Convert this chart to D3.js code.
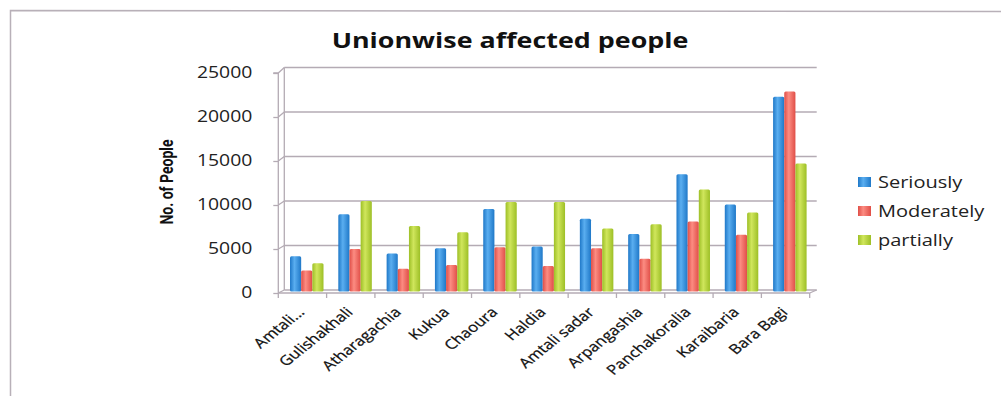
<!DOCTYPE html>
<html>
<head>
<meta charset="utf-8">
<script src="https://cdn.jsdelivr.net/npm/d3@7"></script>
<style>
  html, body { margin: 0; padding: 0; background: #fff; }
  svg { display: block; }
</style>
</head>
<body>
<svg id="chart" width="1001" height="396"></svg>
<script>
// Unions along the x axis
const categories = ["Amtali...", "Gulishakhali", "Atharagachia", "Kukua", "Chaoura", "Haldia",
  "Amtali sadar", "Arpangashia", "Panchakoralia", "Karaibaria", "Bara Bagi"];

// Affected people per union, by severity
const seriously  = [3800, 8500, 4100, 4700, 9100, 4900, 8000, 6300, 13000, 9600, 21700];
const moderately = [2200, 4600, 2400, 2800, 4800, 2700, 4700, 3500, 7700, 6200, 22300];
const partially  = [3000, 10000, 7200, 6500, 9900, 9900, 6900, 7400, 11300, 8700, 14200];

const seriesNames = ["Seriously", "Moderately", "partially"];
const yTicks = [0, 5000, 10000, 15000, 20000, 25000];

const series = [
  { name: seriesNames[0], values: seriously,  edge: "#1f78c8", mid: "#5aaef0" },
  { name: seriesNames[1], values: moderately, edge: "#e04e47", mid: "#fc8c82" },
  { name: seriesNames[2], values: partially,  edge: "#9dbf26", mid: "#d0e65c" }
];

const svg = d3.select("#chart");
const gridColor = "#b4abb4";
const stretch = 1.25;   // the chart's text is set wide

// outer frame
svg.append("path")
  .attr("d", "M10.5,396 L10.5,10.5 L1001,11.5")
  .attr("fill", "none").attr("stroke", "#b8b0b8").attr("stroke-width", 1.5);

// gradients giving the columns a rounded look
const defs = svg.append("defs");
series.forEach((s, i) => {
  const g = defs.append("linearGradient").attr("id", "grad" + i)
    .attr("x1", "0").attr("x2", "1").attr("y1", "0").attr("y2", "0");
  g.append("stop").attr("offset", "0%").attr("stop-color", s.edge);
  g.append("stop").attr("offset", "40%").attr("stop-color", s.mid);
  g.append("stop").attr("offset", "100%").attr("stop-color", s.edge);
});

// geometry of the pseudo-3D plot box
const x0 = 278.3, x1 = 809.7;       // front axis extent
const depthX = 6;                   // horizontal offset of the back wall
const yFront = d3.scaleLinear().domain([0, 25000]).range([293, 73]);
const yBack  = d3.scaleLinear().domain([0, 25000]).range([290, 67.5]);

const xBand = d3.scaleBand().domain(categories).range([x0, x1]).padding(0);
const clusterW = 33.5;
const xInner = d3.scaleBand().domain(seriesNames).range([0, clusterW]).padding(0);

// back wall gridlines with the side wall connectors
yTicks.forEach(v => {
  const yb = yBack(v), yf = yFront(v);
  svg.append("line")
    .attr("x1", x0 + depthX).attr("x2", x1 + depthX + 1)
    .attr("y1", yb).attr("y2", yb)
    .attr("stroke", gridColor).attr("stroke-width", 1.3);
  svg.append("line")
    .attr("x1", x0).attr("x2", x0 + depthX)
    .attr("y1", yf).attr("y2", yb)
    .attr("stroke", gridColor).attr("stroke-width", 1.3);
});

// side wall back edge
svg.append("line")
  .attr("x1", x0 + depthX).attr("x2", x0 + depthX)
  .attr("y1", yBack(0)).attr("y2", yBack(25000))
  .attr("stroke", gridColor).attr("stroke-width", 1.3);

// floor right edge
svg.append("line")
  .attr("x1", x1).attr("x2", x1 + depthX + 1)
  .attr("y1", yFront(0)).attr("y2", yBack(0))
  .attr("stroke", gridColor).attr("stroke-width", 1.3);

// columns
const groups = svg.append("g").selectAll("g")
  .data(categories).join("g")
  .attr("transform", d => `translate(${xBand(d) + (xBand.bandwidth() - clusterW) / 2 + 4.3},0)`);

series.forEach((s, i) => {
  groups.append("rect")
    .attr("x", xInner(s.name))
    .attr("width", xInner.bandwidth())
    .attr("y", (d, j) => yBack(s.values[j]))
    .attr("height", (d, j) => yBack(0) + 1.5 - yBack(s.values[j]))
    .attr("rx", 1.5)
    .attr("fill", `url(#grad${i})`);
});

// front y axis
const yAxis = d3.axisLeft(yFront).tickValues(yTicks).tickSize(5).tickPadding(0)
  .tickFormat(d3.format("d"));
const gy = svg.append("g").attr("transform", `translate(${x0},0)`).call(yAxis);
gy.select(".domain").attr("stroke", gridColor).attr("stroke-width", 1.3)
  .attr("d", `M-5,${yFront(25000)}H0V${yFront(0)}`);
gy.selectAll(".tick line").attr("stroke", gridColor).attr("stroke-width", 1.3);
gy.selectAll(".tick text")
  .attr("x", null)
  .attr("transform", `translate(-26,0) scale(${stretch},1)`)
  .attr("font-family", "'Open Sans', sans-serif").attr("font-size", 15.5)
  .attr("fill", "#222");

// front x axis
const xAxis = d3.axisBottom(xBand).tickSize(0).tickFormat("");
const gx = svg.append("g").attr("transform", `translate(0,${yFront(0)})`).call(xAxis);
gx.select(".domain").attr("stroke", gridColor).attr("stroke-width", 1.3)
  .attr("d", `M${x0},0H${x1}`);
// category separators
const sepX = categories.map(c => xBand(c)).concat([x1]);
gx.selectAll("line.sep").data(sepX).join("line").attr("class", "sep")
  .attr("x1", d => d).attr("x2", d => d).attr("y1", 0).attr("y2", 5)
  .attr("stroke", gridColor).attr("stroke-width", 1.3);

// slanted category labels
svg.append("g").selectAll("text")
  .data(categories).join("text")
  .attr("transform", d =>
    `translate(${xBand(d) + xBand.bandwidth() / 2 + 3},${yFront(0) + 20}) scale(1.25,1) rotate(-45)`)
  .attr("text-anchor", "end")
  .attr("font-family", "'Open Sans', sans-serif").attr("font-size", 13.5)
  .attr("fill", "#111").attr("stroke", "#111").attr("stroke-width", 0.25)
  .text(d => d);

// y axis title
svg.append("text")
  .attr("transform", `translate(173,182) scale(${stretch},1) rotate(-90)`)
  .attr("text-anchor", "middle")
  .attr("font-family", "Roboto, sans-serif").attr("font-weight", "bold")
  .attr("font-size", 14).attr("fill", "#111")
  .text("No. of People");

// chart title
svg.append("text")
  .attr("transform", `translate(510,48) scale(1.28,1)`)
  .attr("text-anchor", "middle")
  .attr("font-family", "'Open Sans', sans-serif").attr("font-weight", "bold")
  .attr("font-size", 21).attr("fill", "#111")
  .text("Unionwise affected people");

// legend
const legend = svg.append("g").selectAll("g")
  .data(series).join("g")
  .attr("transform", (d, i) => `translate(858,${182 + i * 29})`);
legend.append("rect")
  .attr("x", 0).attr("y", -5).attr("width", 13).attr("height", 10)
  .attr("fill", (d, i) => `url(#grad${i})`);
legend.append("text")
  .attr("transform", `translate(20,0) scale(${stretch},1)`)
  .attr("dy", "0.35em")
  .attr("font-family", "'Open Sans', sans-serif").attr("font-size", 16)
  .attr("fill", "#222")
  .text(d => d.name);
</script>
</body>
</html>
